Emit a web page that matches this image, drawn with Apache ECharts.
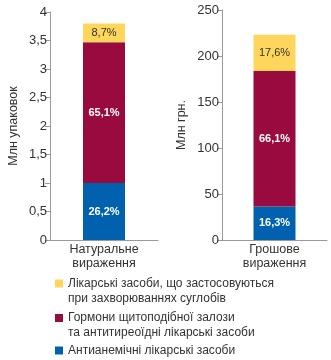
<!DOCTYPE html>
<html><head><meta charset="utf-8">
<script src="https://cdn.jsdelivr.net/npm/echarts@6/dist/echarts.min.js"></script>
<style>html,body{margin:0;padding:0;background:#fff}#c{width:331px;height:360px}</style>
</head><body><div id="c"></div>
<script>
const categoriesLeft = ['Натуральне\nвираження'];
const categoriesRight = ['Грошове\nвираження'];
const seriesNames = ['Антианемічні лікарські засоби', 'Гормони щитоподібної залози та антитиреоїдні лікарські засоби', 'Лікарські засоби, що застосовуються при захворюваннях суглобів'];
const legendLabels = ['Антианемічні лікарські засоби', 'Гормони щитоподібної залози\nта антитиреоїдні лікарські засоби', 'Лікарські засоби, що застосовуються\nпри захворюваннях суглобів'];
const packsValues = [1.0, 2.47, 0.33];
const packsShares = ['26,2%', '65,1%', '8,7%'];
const moneyValues = [36.3, 147.4, 39.3];
const moneyShares = ['16,3%', '66,1%', '17,6%'];
const leftTicks = { min: 0, max: 4, interval: 0.5 };
const rightTicks = { min: 0, max: 250, interval: 50 };
const colors = ['#0062AE', '#990B3E', '#FED65B'];
const font = '"Liberation Sans", Arial, sans-serif';

const chart = echarts.init(document.getElementById('c'), null, { renderer: 'canvas' });
const axisLineStyle = { lineStyle: { color: '#9a9a9a', width: 1 } };
function yAxis(grid, ticks, name, gap) {
  return {
    type: 'value', gridIndex: grid, min: ticks.min, max: ticks.max, interval: ticks.interval,
    name: name, nameLocation: 'middle', nameGap: gap, nameRotate: 90,
    nameTextStyle: { color: '#333', fontSize: 12.5, fontFamily: font },
    axisLine: Object.assign({ show: true }, axisLineStyle),
    axisTick: { show: true, length: 5, lineStyle: { color: '#9a9a9a' } },
    splitLine: { show: false },
    axisLabel: { color: '#333', fontSize: 13, fontFamily: font, margin: 3,
      formatter: v => String(v).replace('.', ',') }
  };
}
function xAxis(grid, cats) {
  return {
    type: 'category', gridIndex: grid, data: cats,
    axisLine: Object.assign({ show: true }, axisLineStyle),
    axisTick: { show: false },
    axisLabel: { color: '#333', fontSize: 12.5, fontFamily: font, lineHeight: 14, margin: 3 }
  };
}
const series = [];
[[packsValues, packsShares, 0], [moneyValues, moneyShares, 1]].forEach(([vals, shares, g]) => {
  vals.forEach((v, i) => {
    series.push({
      type: 'bar', name: seriesNames[i], stack: 's' + g, xAxisIndex: g, yAxisIndex: g,
      barWidth: 42, data: [v], itemStyle: { color: colors[i] },
      label: { show: true, position: 'inside', formatter: shares[i],
        color: i === 2 ? '#333' : '#fff', fontSize: 11, fontWeight: i === 2 ? 'normal' : 'bold', fontFamily: font }
    });
  });
});
const legendTops = [261, 295.5, 343];
const legendOrder = [2, 1, 0];
const legends = legendOrder.map((idx, k) => ({
  orient: 'vertical', left: 55, top: legendTops[k], padding: 0, itemWidth: 8, itemHeight: 8, itemGap: 0,
  icon: 'rect', selectedMode: false,
  data: [seriesNames[idx]],
  formatter: () => (legendLabels[idx].indexOf('\n') >= 0 ? '\n' : '') + legendLabels[idx],
  textStyle: { color: '#333', fontSize: 12, lineHeight: 15, fontFamily: font }
}));
chart.setOption({
  animation: false,
  grid: [
    { left: 50, top: 12, width: 108, height: 228 },
    { left: 222, top: 10, width: 105, height: 230 }
  ],
  xAxis: [xAxis(0, categoriesLeft), xAxis(1, categoriesRight)],
  yAxis: [yAxis(0, leftTicks, 'Млн упаковок', 30), yAxis(1, rightTicks, 'Млн грн.', 34)],
  legend: legends,
  series: series
});
</script></body></html>
